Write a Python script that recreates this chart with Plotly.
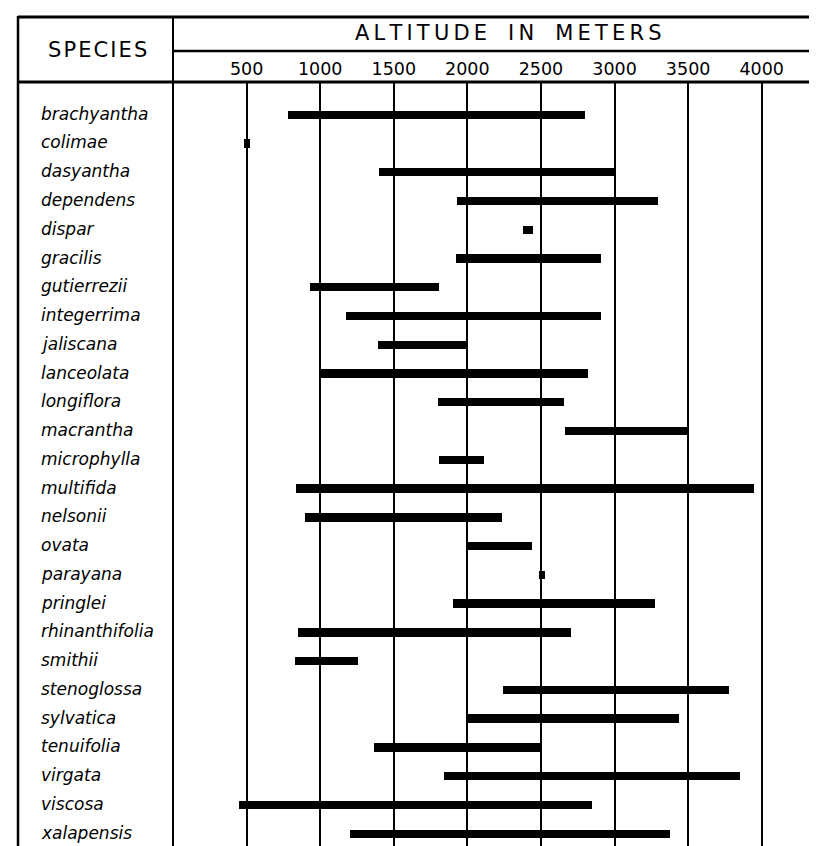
import plotly.graph_objects as go

species = ["brachyantha", "colimae", "dasyantha", "dependens", "dispar", "gracilis",
           "gutierrezii", "integerrima", "jaliscana", "lanceolata", "longiflora",
           "macrantha", "microphylla", "multifida", "nelsonii", "ovata", "parayana",
           "pringlei", "rhinanthifolia", "smithii", "stenoglossa", "sylvatica",
           "tenuifolia", "virgata", "viscosa", "xalapensis"]
low_m = [780, 480, 1400, 1930, 2375, 1920, 930, 1175, 1390, 1000, 1800, 2665, 1810,
         835, 900, 2000, 2490, 1900, 850, 830, 2245, 2000, 1365, 1840, 445, 1200]
high_m = [2800, 520, 3000, 3295, 2445, 2905, 1805, 2905, 2000, 2820, 2655, 3500, 2110,
          3950, 2235, 2440, 2530, 3275, 2705, 1255, 3780, 3440, 2500, 3850, 2850, 3380]
tick_vals = [500, 1000, 1500, 2000, 2500, 3000, 3500, 4000]
tick_text = ["500", "1000", "1500", "2000", "2500", "3000", "3500", "4000"]

W, H = 817, 846
L, T = 165, 74
PW, PH = W - L, H - T

def px(x):
    return (x - L) / PW

def py(y):
    return 1 - (y - T) / PH

idx = list(range(len(species)))
fig = go.Figure()
fig.add_trace(go.Bar(
    orientation="h", y=idx, base=low_m,
    x=[h - l for l, h in zip(low_m, high_m)],
    width=0.29, marker=dict(color="black", line=dict(width=0)),
    hoverinfo="skip", showlegend=False))

FONT = "DejaVu Sans"
annotations = []
for i, s in enumerate(species):
    annotations.append(dict(x=px(31), xref="paper", y=i, yref="y", yshift=1,
                            text="<i>" + s + "</i>",
                            showarrow=False, xanchor="left", yanchor="middle",
                            font=dict(family=FONT, size=17, color="black")))
annotations.append(dict(x=px(89), xref="paper", y=py(42), yref="paper",
                        text="\u200a".join(list("SPECIES")),
                        showarrow=False, xanchor="center", yanchor="middle",
                        font=dict(family=FONT, size=21, color="black")))
title = "\u2009".join(list("ALTITUDE")) + "\u2003" + "\u2009".join(list("IN")) + "\u2003" + "\u2009".join(list("METERS"))
annotations.append(dict(x=px(500), xref="paper", y=py(25), yref="paper", text=title,
                        showarrow=False, xanchor="center", yanchor="middle",
                        font=dict(family=FONT, size=21, color="black")))

shapes = []
def line(x0, y0, x1, y1, w):
    shapes.append(dict(type="line", xref="paper", yref="paper", x0=px(x0), y0=py(y0),
                       x1=px(x1), y1=py(y1), line=dict(color="black", width=w)))

line(10, 9, W + 5, 9, 3)
line(10, 74, W + 5, 74, 3)
line(165, 43, W + 5, 43, 2.5)
line(10, 8, 10, H + 5, 2.5)
line(165, 8, 165, H + 5, 2)

fig.update_layout(
    width=W, height=H,
    margin=dict(l=L, r=0, t=T, b=0, pad=0),
    paper_bgcolor="white", plot_bgcolor="white",
    annotations=annotations, shapes=shapes,
    xaxis=dict(range=[0, PW / 0.14718], side="top", tickvals=tick_vals, ticktext=tick_text,
               showgrid=True, gridcolor="black", gridwidth=1.5, zeroline=False,
               showline=False, ticks="", ticklabelstandoff=3,
               tickfont=dict(family=FONT, size=17.5, color="black"), fixedrange=True),
    yaxis=dict(range=[(H - 106.7) / 28.76, (T - 106.7) / 28.76], showticklabels=False,
               showgrid=False, zeroline=False, showline=False, ticks="", fixedrange=True),
    bargap=0,
)
fig.write_html("out.html")
